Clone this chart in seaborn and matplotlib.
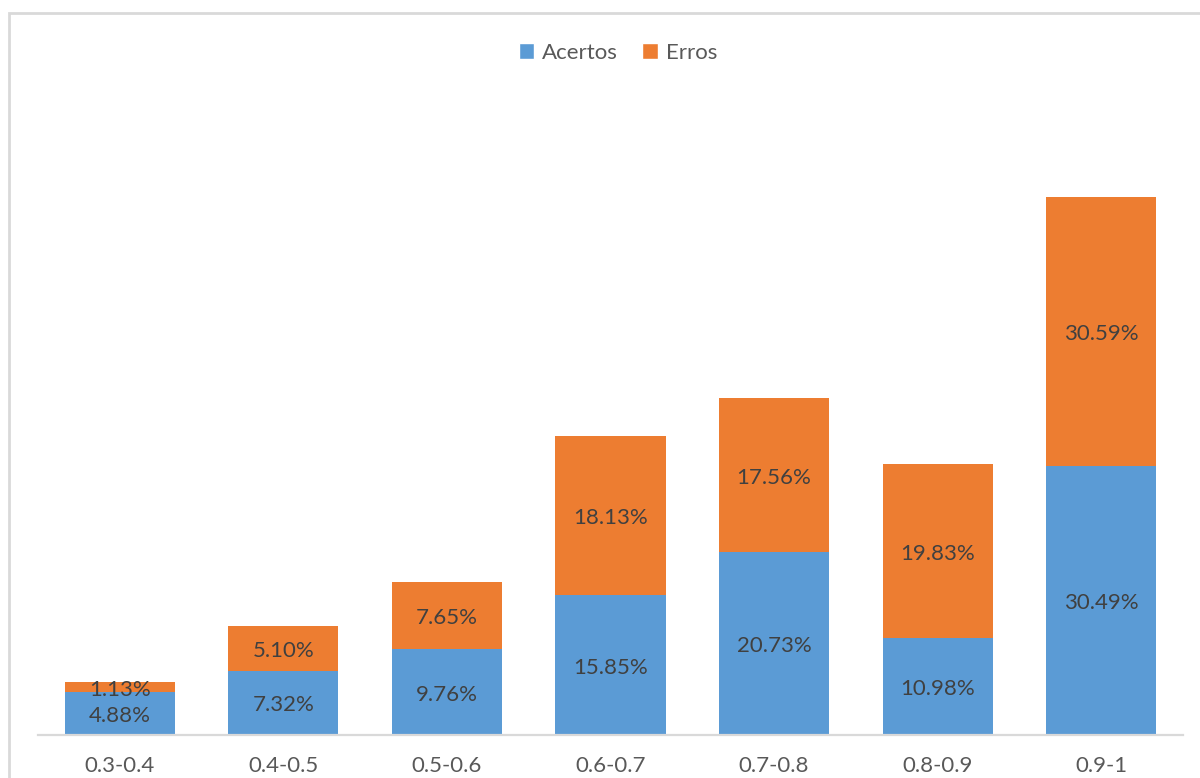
import matplotlib
matplotlib.use("Agg")
import matplotlib.pyplot as plt
from matplotlib.patches import Rectangle, Patch
import seaborn as sns
import pandas as pd

# Faixas de confiança e percentagens de acertos / erros
faixas = ["0.3-0.4", "0.4-0.5", "0.5-0.6", "0.6-0.7", "0.7-0.8", "0.8-0.9", "0.9-1"]
acertos = [4.88, 7.32, 9.76, 15.85, 20.73, 10.98, 30.49]
erros = [1.13, 5.10, 7.65, 18.13, 17.56, 19.83, 30.59]

AZUL = "#5B9BD5"
LARANJA = "#ED7D31"
CINZA_EIXO = "#D9D9D9"
COR_TEXTO = "#595959"
COR_ROTULO = "#404040"

sns.set_theme(style="white")
plt.rcParams["font.family"] = ["Lato", "DejaVu Sans"]

df = pd.DataFrame({"faixa": faixas, "acertos": acertos, "erros": erros})
df["total"] = df["acertos"] + df["erros"]

fig = plt.figure(figsize=(12, 7.78), dpi=100)
ax = fig.add_axes([38 / 1200, 43 / 778, 1145 / 1200, 634.3 / 778])

largura = 0.673
sns.barplot(data=df, x="faixa", y="total", color=LARANJA, saturation=1,
            width=largura, ax=ax, linewidth=0)
sns.barplot(data=df, x="faixa", y="acertos", color=AZUL, saturation=1,
            width=largura, ax=ax, linewidth=0)

# Rótulos de valor no centro de cada segmento
for i, (a, e) in enumerate(zip(acertos, erros)):
    ax.text(i, a / 2 - 0.3, f"{a:.2f}%", ha="center", va="center",
            fontsize=16, color=COR_ROTULO)
    ax.text(i, a + e / 2 - 0.3, f"{e:.2f}%", ha="center", va="center",
            fontsize=16, color=COR_ROTULO)

ax.set_xlim(-0.5, 6.5)
ax.set_ylim(0, 72)
ax.set_xlabel("")
ax.set_ylabel("")
ax.set_yticks([])
for lado in ["top", "right", "left"]:
    ax.spines[lado].set_visible(False)
ax.spines["bottom"].set_color(CINZA_EIXO)
ax.spines["bottom"].set_linewidth(1.6)
ax.tick_params(axis="x", length=0, pad=15, labelsize=16, labelcolor=COR_TEXTO)

handles = [Patch(facecolor=AZUL, label="Acertos"),
           Patch(facecolor=LARANJA, label="Erros")]
fig.legend(handles=handles, loc="center", bbox_to_anchor=(0.515, 1 - 53 / 778),
           ncol=2, frameon=False, fontsize=16, labelcolor=COR_TEXTO,
           handlelength=0.7, handleheight=0.7, handletextpad=0.35,
           columnspacing=1.1)

# Moldura da área do gráfico
fig.patches.append(Rectangle((9 / 1200, -0.2), 1.5, 1.2 - 13 / 778,
                             transform=fig.transFigure, fill=False,
                             edgecolor=CINZA_EIXO, linewidth=2, zorder=0))

fig.savefig("out.png", dpi=100, facecolor="white")
